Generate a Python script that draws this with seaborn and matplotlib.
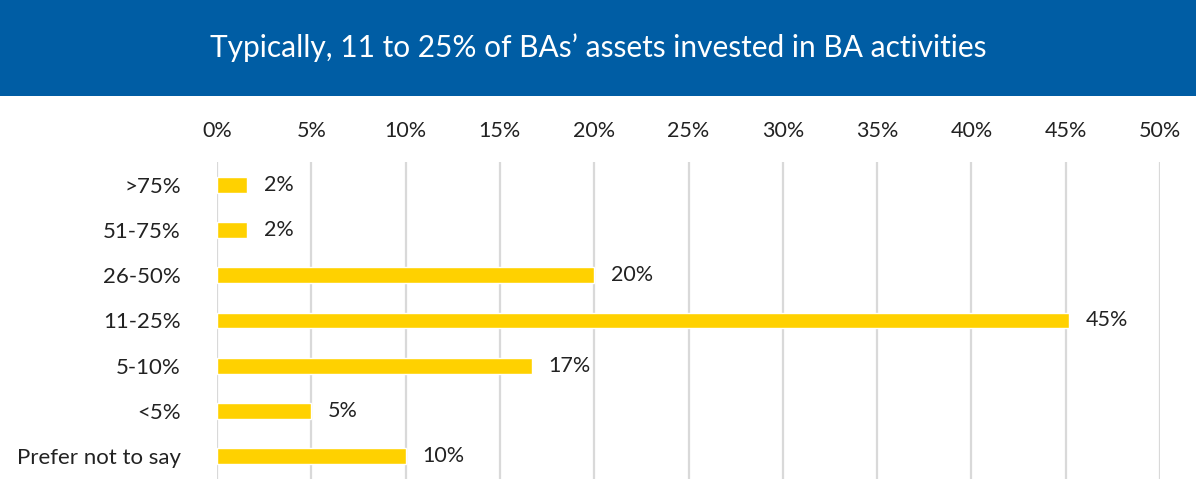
import pandas as pd
import matplotlib
matplotlib.use('Agg')
import matplotlib.pyplot as plt
import seaborn as sns
from matplotlib.patches import Rectangle

# dados do gráfico
categorias = ['>75%', '51-75%', '26-50%', '11-25%', '5-10%', '<5%', 'Prefer not to say']
valores = [1.6, 1.6, 20.0, 45.2, 16.7, 5.0, 10.0]
rotulos = ['2%', '2%', '20%', '45%', '17%', '5%', '10%']
ticks = [0, 5, 10, 15, 20, 25, 30, 35, 40, 45, 50]
tick_labels = [f'{t}%' for t in ticks]
titulo = 'Typically, 11 to 25% of BAs\u2019 assets invested in BA activities'

df = pd.DataFrame({'Categoria': categorias, 'Valor': valores})

sns.set_theme(style='white')
plt.rcParams['font.family'] = ['Lato', 'DejaVu Sans']

fig = plt.figure(figsize=(11.96, 4.79), dpi=100)
ax = fig.add_axes([217 / 1196, 0, (1160 - 217) / 1196, 1 - 162 / 479])

sns.barplot(data=df, x='Valor', y='Categoria', orient='h', color='#FFD100',
            width=0.35, ax=ax, saturation=1)

ax.bar_label(ax.containers[0], labels=rotulos, padding=12, fontsize=15.5, color='#222222')

ax.set_xlim(0, 50)
ax.set_ylim(6.5, -0.5)
ax.set_xticks(ticks)
ax.set_xticklabels(tick_labels)
ax.xaxis.tick_top()
ax.tick_params(axis='x', length=0, pad=15, labelsize=15.5, colors='#222222')
ax.tick_params(axis='y', length=0, pad=26, labelsize=16, colors='#222222')
ax.set_xlabel('')
ax.set_ylabel('')
ax.grid(axis='x', color='#D9D9D9', linewidth=1.6)
ax.grid(axis='y', visible=False)
ax.set_axisbelow(True)
for s in ax.spines.values():
    s.set_visible(False)

# faixa azul do título
fig.patches.append(Rectangle((0, 1 - 96 / 479), 1, 96 / 479, transform=fig.transFigure,
                             facecolor='#005DA4', edgecolor='none', zorder=0))
fig.text(0.5, 1 - 48 / 479, titulo, ha='center', va='center', color='white',
         fontsize=21.5, fontweight='normal')

fig.savefig('out.png', dpi=100)
